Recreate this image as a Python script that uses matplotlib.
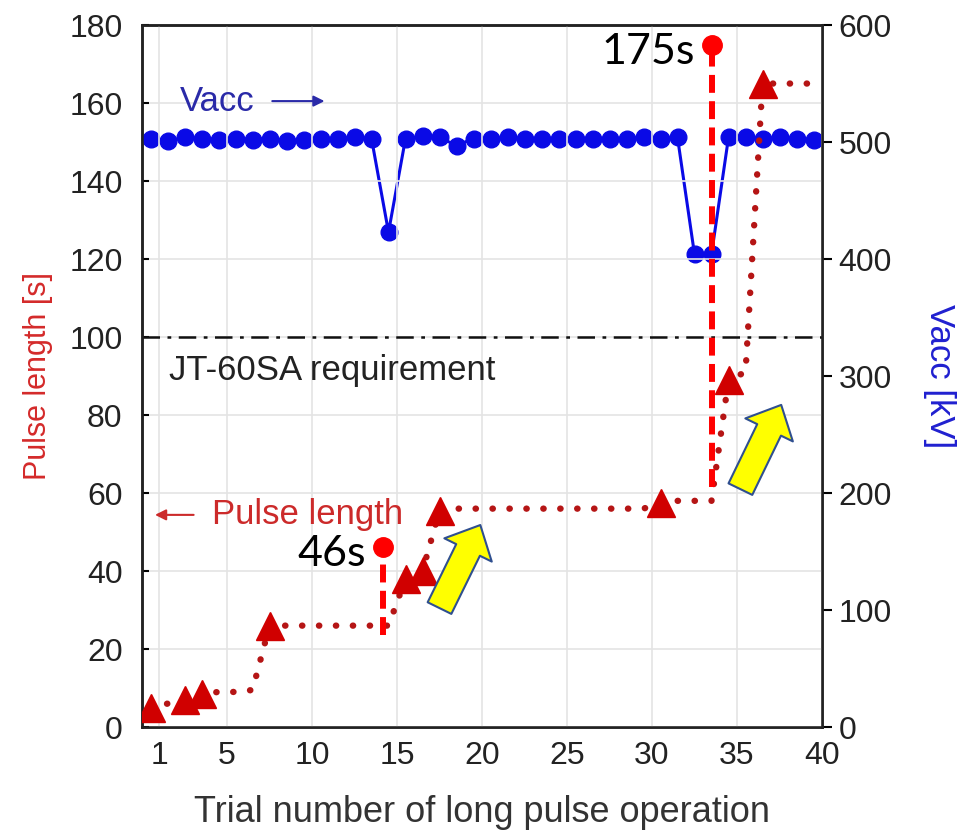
import numpy as np
import matplotlib
matplotlib.use("Agg")
import matplotlib.pyplot as plt
from matplotlib.patches import FancyArrowPatch

plt.rcParams['font.family'] = ['Liberation Sans', 'DejaVu Sans']

# trial numbers 1..40, each trial drawn in the middle of its slot
trials = np.arange(1, 41)

# beam energy per trial [kV]
vacc = [503, 501, 504, 503, 502, 503, 502, 503, 501, 502, 503, 503, 504, 503,
        423,
        503, 505, 504, 497,
        503, 503, 504, 503, 503, 503, 503, 503, 503, 503, 504, 503, 504,
        404, 404,
        504, 504, 503, 504, 503, 502]

# longest pulse reached so far [s]
pulse = [5, 6, 7, 8.5, 9, 9, 9.5, 26, 26, 26, 26, 26, 26, 26, 26,
         38, 40, 55.5, 56, 56, 56, 56, 56, 56, 56, 56, 56, 56, 56, 56,
         57.5, 58, 58, 58, 89, 91, 165, 165, 165, 165]

# trials where a new record was set (triangles)
record_trials = [1, 3, 4, 8, 16, 17, 18, 31, 35, 37]

# highlighted shots: (x, bottom, top, label)
shot_x = [14.2, 33.5]
shot_bottom = [23.5, 61.5]
shot_top = [46.2, 175]
shot_labels = ['46s', '175s']

requirement = 100

x = trials - 0.5
rec_idx = [t - 1 for t in record_trials]

fig = plt.figure(figsize=(9.78, 8.35), dpi=100)
ax = fig.add_axes([0.1452, 0.1293, 0.6953, 0.8407])
ax2 = ax.twinx()
ax.set_zorder(ax2.get_zorder() + 1)
ax.patch.set_visible(False)

# Vacc on right axis
ax2.plot(x, vacc, '-o', color='#0a0ae6', lw=2.2, ms=12, zorder=3)
ax2.set_ylim(0, 600)
ax2.set_yticks(range(0, 601, 100))

# pulse length on left axis
ax.plot(x, pulse, color='#b51515', lw=4.6, linestyle=(0, (0.05, 2.6)),
        dash_capstyle='round', zorder=3)
ax.plot(x[rec_idx], np.array(pulse)[rec_idx], '^', color='#d00000', ms=20,
        zorder=4)
ax.axhline(requirement, color='#111111', lw=1.8, linestyle=(0, (7, 3, 1.5, 3)),
           zorder=2)

for sx, sb, st, lab in zip(shot_x, shot_bottom, shot_top, shot_labels):
    ax.plot([sx, sx], [sb, st], color='#ff0000', lw=4.3,
            linestyle=(0, (3, 1.4)), zorder=5)
    ax.plot(sx, st, 'o', color='#ff0000', ms=14, zorder=6)
    ax.text(sx - 1.0, st - 1.8, lab, ha='right', va='center', fontsize=31,
            family=['Lato', 'DejaVu Sans'], color='black', zorder=6)

ax.set_xlim(0, 40)
ax.set_ylim(0, 180)
ax.set_xticks([1, 5, 10, 15, 20, 25, 30, 35, 40])
ax.set_yticks(range(0, 181, 20))
ax.grid(True, color='#e4e4e4', lw=1.2, zorder=0)
ax.set_axisbelow(True)

for a in (ax, ax2):
    for s in a.spines.values():
        s.set_linewidth(1.8)
        s.set_color('#222222')
ax.tick_params(axis='x', length=0, pad=10, labelsize=23, labelcolor='#222222')
ax.tick_params(axis='y', direction='in', length=5, width=1.5, pad=14,
               labelsize=23, labelcolor='#222222')
ax2.tick_params(axis='y', length=7, width=1.5, pad=5, labelsize=23,
                labelcolor='#222222')

ax.set_xlabel('Trial number of long pulse operation', fontsize=26,
              color='#333333', labelpad=17)
ax.set_ylabel('Pulse length [s]', fontsize=22, color='#d42a2a', labelpad=12)
ax2.set_ylabel('Vacc [kV]', fontsize=25, color='#2020d0', rotation=-90,
               labelpad=46)

# in-plot labels
ax.text(2.2, 160.3, 'Vacc', fontsize=25, color='#2a2aa8', va='center')
ax.annotate('', xy=(10.9, 160.5), xytext=(7.5, 160.5),
            arrowprops=dict(arrowstyle='-|>', color='#2a2aa8', lw=1.5,
                            mutation_scale=16))
ax.text(4.1, 54.4, 'Pulse length', fontsize=25, color='#cc2a2a',
        va='center')
ax.annotate('', xy=(0.6, 54.4), xytext=(3.2, 54.4),
            arrowprops=dict(arrowstyle='-|>', color='#cc2a2a', lw=1.5,
                            mutation_scale=16))
ax.text(1.6, 91.5, 'JT-60SA requirement', fontsize=25, color='#222222',
        va='center')

# yellow arrows
for tail, tip in [((17.5, 30.5), (19.9, 51.8)), ((35.2, 61.0), (37.6, 82.6))]:
    arr = FancyArrowPatch(tail, tip, arrowstyle='simple,head_length=20,head_width=38,tail_width=19',
                          mutation_scale=1, shrinkA=0, shrinkB=0,
                          facecolor='#ffff00', edgecolor='#2f4f8f', lw=1.5,
                          zorder=7)
    ax.add_patch(arr)

fig.savefig('out.png', dpi=100)
